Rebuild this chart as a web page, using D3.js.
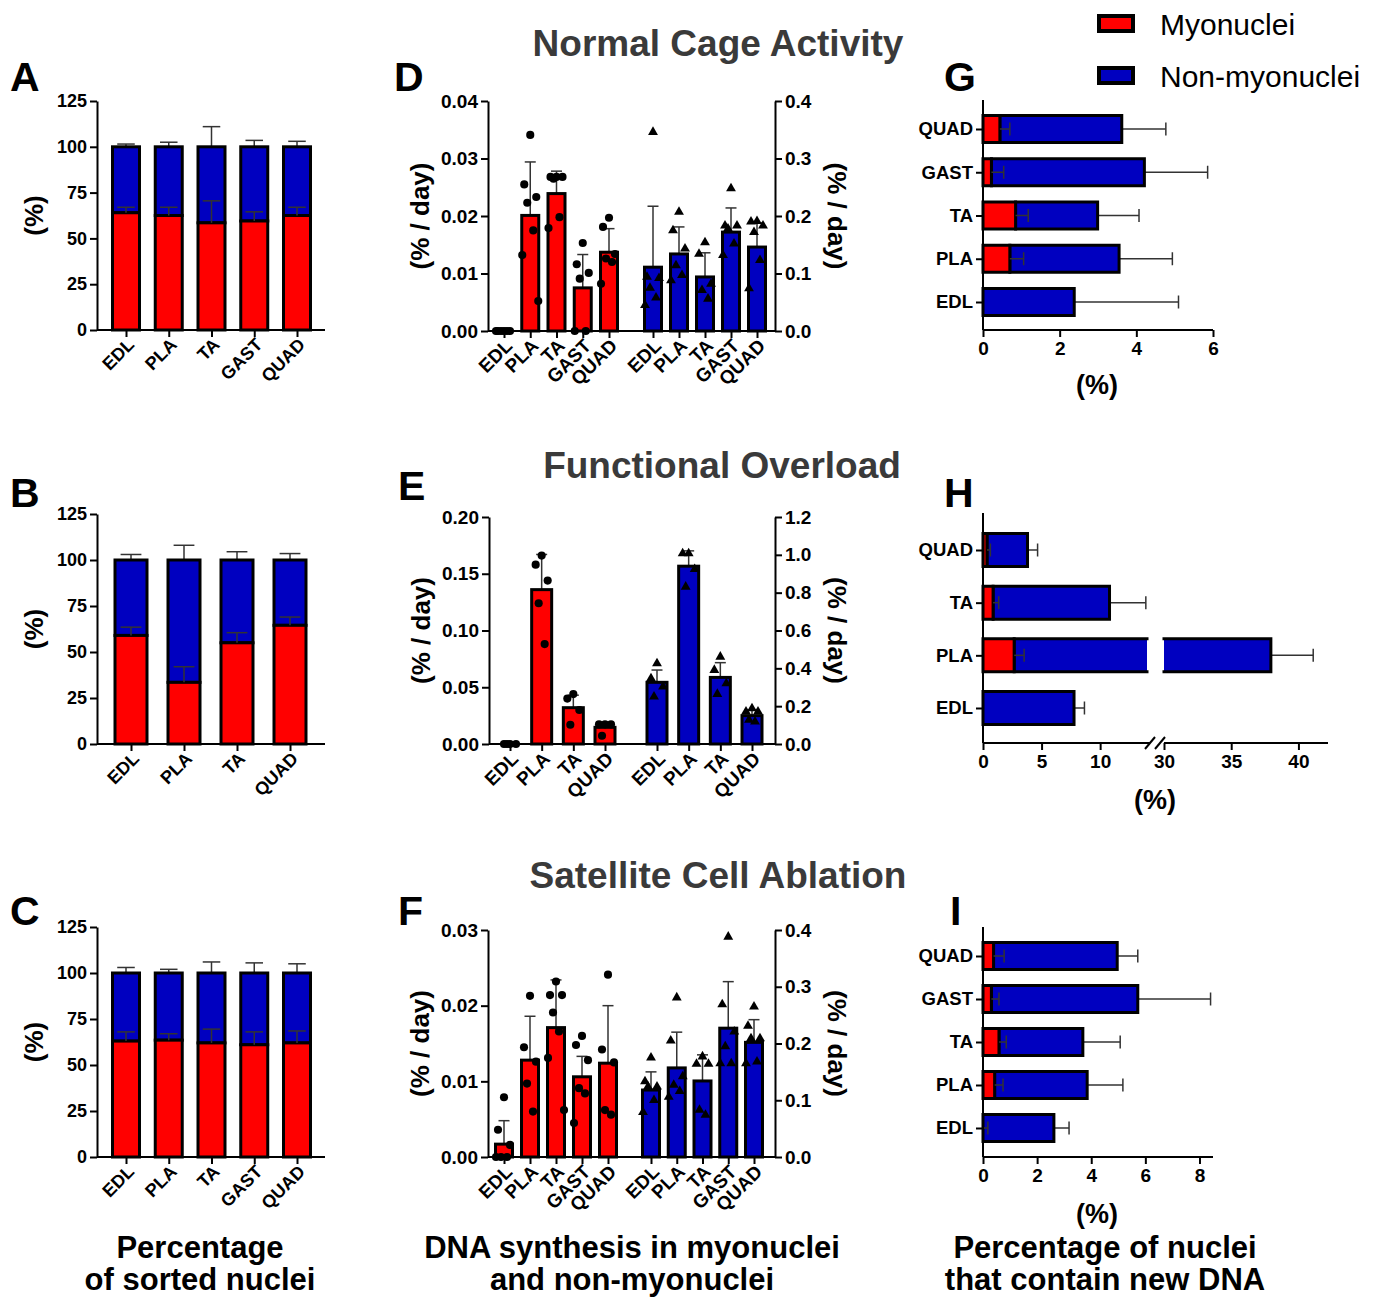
<!DOCTYPE html>
<html><head><meta charset="utf-8">
<script src="https://cdn.jsdelivr.net/npm/d3@7"></script>
<style>
body{margin:0;background:#fff}
svg text{font-family:"Liberation Sans",Arial,sans-serif;font-weight:bold}
</style></head><body>
<svg id="fig" width="1376" height="1300"></svg>
<script>
// muscle categories
var cats5 = ["EDL", "PLA", "TA", "GAST", "QUAD"];
var cats4 = ["EDL", "PLA", "TA", "QUAD"];

// A-C: percentage of sorted nuclei (%)
var aMyo = [64, 62.5, 58.5, 59.5, 62.5], aMyoSd = [3, 4.5, 12, 5, 4.5];
var aNon = [36, 37.5, 41.5, 40.5, 37.5], aNonSd = [1.5, 2.5, 11, 3.5, 3];
var bMyo = [59, 33.5, 55, 64.5], bMyoSd = [4.5, 8.5, 5.5, 4.5];
var bNon = [41, 66.5, 45, 35.5], bNonSd = [3, 8, 4.5, 3.5];
var cMyo = [63, 63.5, 62, 61, 62], cMyoSd = [5, 3.5, 7.5, 7, 6.5];
var cNon = [37, 36.5, 38, 39, 38], cNonSd = [3, 2, 6, 5.5, 5];

// D: normal cage activity (% / day)
var dRedMean = [0, 0.0201, 0.0239, 0.0075, 0.0137], dRedSd = [0, 0.0093, 0.0039, 0.0058, 0.0041];
var dRedPts = [[0, 0, 0, 0, 0, 0], [0.0341, 0.0255, 0.0233, 0.0223, 0.0175, 0.0132, 0.0052],
  [0.0268, 0.0268, 0.0268, 0.0265, 0.0198, 0.0179], [0.0153, 0.0116, 0.0101, 0.0091, 0, 0],
  [0.0197, 0.0181, 0.0134, 0.0126, 0.0120, 0.0082]];
var dBlueMean = [0.111, 0.134, 0.094, 0.172, 0.146], dBlueSd = [0.106, 0.047, 0.042, 0.042, 0.042];
var dBluePts = [[0.346, 0.094, 0.092, 0.075, 0.058, 0.045], [0.207, 0.175, 0.143, 0.114, 0.097, 0.088],
  [0.154, 0.134, 0.082, 0.071, 0.056], [0.248, 0.183, 0.183, 0.178, 0.152, 0.132],
  [0.191, 0.190, 0.183, 0.172, 0.123, 0.074]];

// E: functional overload
var eRedMean = [0, 0.136, 0.032, 0.0147], eRedSd = [0, 0.031, 0.011, 0.0033];
var eRedPts = [[0, 0, 0, 0], [0.166, 0.158, 0.144, 0.124, 0.088], [0.044, 0.040, 0.030, 0.017],
  [0.0173, 0.0173, 0.0173, 0.0073]];
var eBlueMean = [0.326, 0.940, 0.352, 0.150], eBlueSd = [0.065, 0.081, 0.078, 0.030];
var eBluePts = [[0.426, 0.347, 0.303, 0.250], [1.007, 1.007, 0.924, 0.831], [0.461, 0.391, 0.320, 0.264],
  [0.188, 0.171, 0.171, 0.127, 0.118]];

// F: satellite cell ablation
var fRedMean = [0.0017, 0.0128, 0.0171, 0.0106, 0.0124], fRedSd = [0.0031, 0.0058, 0.0063, 0.0027, 0.0076];
var fRedPts = [[0.0079, 0.0036, 0.0016, 0, 0, 0], [0.0213, 0.0145, 0.0126, 0.0097, 0.0060],
  [0.0232, 0.0214, 0.0214, 0.0191, 0.0166, 0.0131, 0.0062], [0.0160, 0.0148, 0.0128, 0.0091, 0.0084, 0.0045],
  [0.0241, 0.0142, 0.0125, 0.0062, 0.0056]];
var fBlueMean = [0.118, 0.157, 0.134, 0.227, 0.202], fBlueSd = [0.032, 0.063, 0.046, 0.082, 0.040];
var fBluePts = [[0.175, 0.133, 0.124, 0.124, 0.100, 0.079], [0.281, 0.205, 0.142, 0.127, 0.116, 0.106],
  [0.177, 0.164, 0.164, 0.083, 0.074], [0.388, 0.269, 0.221, 0.195, 0.165, 0.165],
  [0.265, 0.231, 0.209, 0.209, 0.168, 0.165]];

// G-I: percentage of nuclei that contain new DNA (%)
var gRed = [0, 0.70, 0.85, 0.22, 0.44], gRedSd = [0, 0.36, 0.33, 0.32, 0.26];
var gNon = [2.38, 2.85, 2.14, 3.99, 3.18], gNonSd = [2.72, 1.39, 1.08, 1.65, 1.15];
var hRed = [0, 2.66, 0.86, 0.34], hRedSd = [0, 0.85, 0.48, 0.29];
var hNon = [7.77, 35.29, 9.94, 3.46], hNonSd = [0.89, 3.15, 3.1, 0.86];
var iRed = [0, 0.43, 0.59, 0.31, 0.39], iRedSd = [0.18, 0.31, 0.27, 0.28, 0.39];
var iNon = [2.62, 3.42, 3.10, 5.41, 4.57], iNonSd = [0.56, 1.32, 1.38, 2.69, 0.76];

var RED = "#ff0000", BLUE = "#0000c0", ERR = "#333";
var jit = [0, -6, 6, -3, 3, -8, 8];
var svg = d3.select("#fig");

function styleAxis(g, fs) {
  g.attr("font-size", null).attr("font-family", null);
  g.select(".domain").attr("stroke", "#000").attr("stroke-width", 2);
  g.selectAll(".tick line").attr("stroke", "#000").attr("stroke-width", 2);
  g.selectAll(".tick text").attr("fill", "#000").style("font-size", fs + "px");
}
function rotateLabels(g) {
  g.selectAll(".tick text").attr("text-anchor", "end").attr("x", -5).attr("y", 11)
    .attr("dy", "0.35em").attr("transform", "rotate(-45)");
}
function vErr(g, x, y1, y2, cap) {
  g.append("line").attr("x1", x).attr("x2", x).attr("y1", y1).attr("y2", y2).attr("stroke", ERR).attr("stroke-width", 1.5);
  g.append("line").attr("x1", x - cap / 2).attr("x2", x + cap / 2).attr("y1", y2).attr("y2", y2).attr("stroke", ERR).attr("stroke-width", 1.5);
}
function hErr(g, y, x1, x2, cap) {
  g.append("line").attr("y1", y).attr("y2", y).attr("x1", x1).attr("x2", x2).attr("stroke", ERR).attr("stroke-width", 1.5);
  g.append("line").attr("y1", y - cap / 2).attr("y2", y + cap / 2).attr("x1", x2).attr("x2", x2).attr("stroke", ERR).attr("stroke-width", 1.5);
}
function rotText(x, y, txt, ang, fs) {
  svg.append("text").attr("transform", "translate(" + x + "," + y + ") rotate(" + ang + ")")
    .attr("text-anchor", "middle").attr("dy", "0.35em").style("font-size", fs + "px").text(txt);
}

function stackedCols(cfg) {
  var g = svg.append("g");
  var y = d3.scaleLinear().domain([0, 125]).range([cfg.yb, cfg.yt]);
  var x = d3.scalePoint().domain(cfg.cats).range(cfg.xr);
  cfg.cats.forEach(function (c, i) {
    var cx = x(c), w = cfg.bw;
    var tot = cfg.myo[i] + cfg.non[i];
    vErr(g, cx, y(tot), y(tot + cfg.nonSd[i]), w * 0.65);
    g.append("rect").attr("x", cx - w / 2).attr("y", y(tot)).attr("width", w).attr("height", y(cfg.myo[i]) - y(tot))
      .attr("fill", BLUE).attr("stroke", "#000").attr("stroke-width", 3);
    g.append("rect").attr("x", cx - w / 2).attr("y", y(cfg.myo[i])).attr("width", w).attr("height", y(0) - y(cfg.myo[i]))
      .attr("fill", RED).attr("stroke", "#000").attr("stroke-width", 3);
    vErr(g, cx, y(cfg.myo[i]), y(cfg.myo[i] + cfg.myoSd[i]), w * 0.65);
  });
  var ay = g.append("g").attr("transform", "translate(" + cfg.x0 + ",0)")
    .call(d3.axisLeft(y).tickValues([0, 25, 50, 75, 100, 125]).tickSize(7).tickSizeOuter(0).tickPadding(3));
  styleAxis(ay, 18);
  var axx = g.append("g").attr("transform", "translate(0," + cfg.yb + ")")
    .call(d3.axisBottom(x).tickSize(7).tickSizeOuter(0));
  axx.select(".domain").attr("d", "M" + cfg.x0 + ",0H" + cfg.x1);
  styleAxis(axx, 18);
  rotateLabels(axx);
  rotText(34, (cfg.yt + cfg.yb) / 2, "(%)", -90, 26);
}

function drawGroup(g, cats, x, y, mean, sd, pts, color, sym, bw) {
  cats.forEach(function (c, i) {
    var cx = x(c);
    if (sd[i] > 0) vErr(g, cx, y(mean[i]), y(mean[i] + sd[i]), 11);
    g.append("rect").attr("x", cx - bw / 2).attr("y", y(mean[i])).attr("width", bw).attr("height", y(0) - y(mean[i]))
      .attr("fill", color).attr("stroke", "#000").attr("stroke-width", 3);
    pts[i].forEach(function (v, j) {
      g.append("path").attr("d", d3.symbol(sym, sym === d3.symbolCircle ? 52 : 42)())
        .attr("transform", "translate(" + (cx + jit[j % jit.length]) + "," + y(v) + ")").attr("fill", "#000");
    });
  });
}

function dotPanel(cfg) {
  var g = svg.append("g");
  var yL = d3.scaleLinear().domain([0, cfg.maxL]).range([cfg.yb, cfg.yt]);
  var yR = d3.scaleLinear().domain([0, cfg.maxR]).range([cfg.yb, cfg.yt]);
  var xR = d3.scalePoint().domain(cfg.cats).range(cfg.redX);
  var xB = d3.scalePoint().domain(cfg.cats).range(cfg.blueX);
  drawGroup(g, cfg.cats, xR, yL, cfg.redMean, cfg.redSd, cfg.redPts, RED, d3.symbolCircle, cfg.bw);
  drawGroup(g, cfg.cats, xB, yR, cfg.blueMean, cfg.blueSd, cfg.bluePts, BLUE, d3.symbolTriangle, cfg.bw);
  var al = g.append("g").attr("transform", "translate(" + cfg.x0 + ",0)")
    .call(d3.axisLeft(yL).tickValues(cfg.ticksL).tickFormat(d3.format(cfg.fmtL)).tickSize(7).tickSizeOuter(0).tickPadding(3));
  styleAxis(al, 19);
  var ar = g.append("g").attr("transform", "translate(" + cfg.x1 + ",0)")
    .call(d3.axisRight(yR).tickValues(cfg.ticksR).tickFormat(d3.format(cfg.fmtR)).tickSize(7).tickSizeOuter(0).tickPadding(3));
  styleAxis(ar, 19);
  [xR, xB].forEach(function (xs) {
    var ab = g.append("g").attr("transform", "translate(0," + cfg.yb + ")").call(d3.axisBottom(xs).tickSize(7));
    ab.select(".domain").remove();
    styleAxis(ab, 19);
    rotateLabels(ab);
  });
  g.append("line").attr("x1", cfg.x0).attr("x2", cfg.x1).attr("y1", cfg.yb).attr("y2", cfg.yb).attr("stroke", "#000").attr("stroke-width", 2);
  rotText(cfg.x0 - 68, (cfg.yt + cfg.yb) / 2, "(% / day)", -90, 26);
  rotText(cfg.x1 + 62, (cfg.yt + cfg.yb) / 2, "(% / day)", 90, 26);
}

function segRect(g, xa, xb, yc, h, color, openL, openR) {
  g.append("rect").attr("x", xa).attr("y", yc - h / 2).attr("width", Math.max(0, xb - xa)).attr("height", h).attr("fill", color);
  var p = "M" + xa + "," + (yc - h / 2) + "H" + xb + "M" + xa + "," + (yc + h / 2) + "H" + xb;
  if (!openL) p += "M" + xa + "," + (yc - h / 2) + "V" + (yc + h / 2);
  if (!openR) p += "M" + xb + "," + (yc - h / 2) + "V" + (yc + h / 2);
  g.append("path").attr("d", p).attr("fill", "none").attr("stroke", "#000").attr("stroke-width", 3).attr("stroke-linecap", "square");
}

function hbarPanel(cfg) {
  var g = svg.append("g");
  var y = d3.scalePoint().domain(cfg.cats).range(cfg.yr);
  var segs = cfg.segs.map(function (s) { return d3.scaleLinear().domain(s.d).range(s.r); });
  function x(v) {
    if (segs.length > 1 && v >= cfg.segs[1].d[0]) return segs[1](v);
    return segs[0](Math.min(v, cfg.segs[0].d[1]));
  }
  function bar(v0, v1, yc, color) {
    if (segs.length > 1 && v0 < cfg.segs[0].d[1] && v1 > cfg.segs[1].d[0]) {
      segRect(g, x(v0), cfg.segs[0].r[1], yc, cfg.bh, color, false, true);
      segRect(g, cfg.segs[1].r[0], x(v1), yc, cfg.bh, color, true, false);
    } else {
      segRect(g, x(v0), x(v1), yc, cfg.bh, color, false, false);
    }
  }
  cfg.cats.forEach(function (c, i) {
    var yc = y(c), tot = cfg.red[i] + cfg.non[i];
    hErr(g, yc, x(tot), x(tot + cfg.nonSd[i]), 13);
    bar(cfg.red[i], tot, yc, BLUE);
    if (cfg.red[i] > 0) bar(0, cfg.red[i], yc, RED);
    if (cfg.redSd[i] > 0) hErr(g, yc, x(cfg.red[i]), x(cfg.red[i] + cfg.redSd[i]), 13);
  });
  var al = g.append("g").attr("transform", "translate(" + cfg.x0 + ",0)")
    .call(d3.axisLeft(y).tickSize(7).tickPadding(3));
  al.select(".domain").attr("d", "M0," + cfg.yb + "V" + cfg.yt);
  styleAxis(al, 18.5);
  cfg.segs.forEach(function (s, k) {
    var ab = g.append("g").attr("transform", "translate(0," + cfg.yb + ")")
      .call(d3.axisBottom(segs[k]).tickValues(s.ticks).tickFormat(d3.format("d")).tickSize(7).tickSizeOuter(0).tickPadding(5));
    ab.select(".domain").attr("d", "M" + s.r[0] + ",0H" + s.axEnd);
    styleAxis(ab, 19);
  });
  if (cfg.segs.length > 1) {
    [cfg.segs[0].axEnd, cfg.segs[1].r[0] - 4].forEach(function (bx) {
      g.append("line").attr("x1", bx - 5).attr("x2", bx + 5).attr("y1", cfg.yb + 6).attr("y2", cfg.yb - 6)
        .attr("stroke", "#000").attr("stroke-width", 2);
    });
  }
  svg.append("text").attr("x", cfg.labX).attr("y", cfg.labY).attr("text-anchor", "middle").style("font-size", "27px").text("(%)");
}

// panels A-C
stackedCols({ cats: cats5, myo: aMyo, myoSd: aMyoSd, non: aNon, nonSd: aNonSd, x0: 97, x1: 325, xr: [126, 297], bw: 27, yt: 101, yb: 330 });
stackedCols({ cats: cats4, myo: bMyo, myoSd: bMyoSd, non: bNon, nonSd: bNonSd, x0: 97, x1: 325, xr: [131, 290], bw: 32, yt: 514, yb: 744 });
stackedCols({ cats: cats5, myo: cMyo, myoSd: cMyoSd, non: cNon, nonSd: cNonSd, x0: 97, x1: 325, xr: [126, 297], bw: 27, yt: 927, yb: 1157 });

// panels D-F
dotPanel({ cats: cats5, x0: 488, x1: 775, yt: 101, yb: 331, redX: [504, 609], blueX: [653, 757], bw: 17,
  maxL: 0.04, ticksL: [0, 0.01, 0.02, 0.03, 0.04], fmtL: ".2f", maxR: 0.4, ticksR: [0, 0.1, 0.2, 0.3, 0.4], fmtR: ".1f",
  redMean: dRedMean, redSd: dRedSd, redPts: dRedPts, blueMean: dBlueMean, blueSd: dBlueSd, bluePts: dBluePts });
dotPanel({ cats: cats4, x0: 489, x1: 775, yt: 517, yb: 744, redX: [510, 605], blueX: [657, 752], bw: 20,
  maxL: 0.2, ticksL: [0, 0.05, 0.1, 0.15, 0.2], fmtL: ".2f", maxR: 1.2, ticksR: [0, 0.2, 0.4, 0.6, 0.8, 1.0, 1.2], fmtR: ".1f",
  redMean: eRedMean, redSd: eRedSd, redPts: eRedPts, blueMean: eBlueMean, blueSd: eBlueSd, bluePts: eBluePts });
dotPanel({ cats: cats5, x0: 488, x1: 775, yt: 930, yb: 1157, redX: [504, 608], blueX: [651, 754], bw: 17,
  maxL: 0.03, ticksL: [0, 0.01, 0.02, 0.03], fmtL: ".2f", maxR: 0.4, ticksR: [0, 0.1, 0.2, 0.3, 0.4], fmtR: ".1f",
  redMean: fRedMean, redSd: fRedSd, redPts: fRedPts, blueMean: fBlueMean, blueSd: fBlueSd, bluePts: fBluePts });

// panels G-I
hbarPanel({ cats: cats5, red: gRed, redSd: gRedSd, non: gNon, nonSd: gNonSd, x0: 983, yt: 100, yb: 330, yr: [302, 129], bh: 27,
  segs: [{ d: [0, 6], r: [983, 1213], ticks: [0, 2, 4, 6], axEnd: 1213 }], labX: 1097, labY: 394 });
hbarPanel({ cats: cats4, red: hRed, redSd: hRedSd, non: hNon, nonSd: hNonSd, x0: 983, yt: 513, yb: 743, yr: [708, 550], bh: 33,
  segs: [{ d: [0, 14], r: [983, 1147], ticks: [0, 5, 10], axEnd: 1150 }, { d: [30, 42.2], r: [1164, 1328], ticks: [30, 35, 40], axEnd: 1328 }],
  labX: 1155, labY: 809 });
hbarPanel({ cats: cats5, red: iRed, redSd: iRedSd, non: iNon, nonSd: iNonSd, x0: 983, yt: 927, yb: 1157, yr: [1128, 956], bh: 27,
  segs: [{ d: [0, 8.5], r: [983, 1213], ticks: [0, 2, 4, 6, 8], axEnd: 1213 }], labX: 1097, labY: 1223 });

// panel letters
[["A", 10, 91], ["B", 10, 507], ["C", 10, 925], ["D", 394, 91], ["E", 398, 500], ["F", 398, 925],
 ["G", 944, 91], ["H", 944, 507], ["I", 950, 925]].forEach(function (l) {
  svg.append("text").attr("x", l[1]).attr("y", l[2]).style("font-size", "41px").text(l[0]);
});

// section titles
[["Normal Cage Activity", 718, 56], ["Functional Overload", 722, 478], ["Satellite Cell Ablation", 718, 888]].forEach(function (t) {
  svg.append("text").attr("x", t[1]).attr("y", t[2]).attr("text-anchor", "middle").attr("fill", "#3a3a3a")
    .style("font-size", "37px").text(t[0]);
});

// column captions
[["Percentage", "of sorted nuclei", 200], ["DNA synthesis in myonuclei", "and non-myonuclei", 632],
 ["Percentage of nuclei", "that contain new DNA", 1105]].forEach(function (c) {
  svg.append("text").attr("x", c[2]).attr("y", 1258).attr("text-anchor", "middle").style("font-size", "31px").text(c[0]);
  svg.append("text").attr("x", c[2]).attr("y", 1290).attr("text-anchor", "middle").style("font-size", "31px").text(c[1]);
});

// legend
[["Myonuclei", RED, 14], ["Non-myonuclei", BLUE, 66]].forEach(function (l) {
  svg.append("rect").attr("x", 1099).attr("y", l[2] + 2).attr("width", 34).attr("height", 15)
    .attr("fill", l[1]).attr("stroke", "#000").attr("stroke-width", 4);
  svg.append("text").attr("x", 1160).attr("y", l[2] + 21).style("font-weight", "normal").style("font-size", "30px").text(l[0]);
});
</script></body></html>
